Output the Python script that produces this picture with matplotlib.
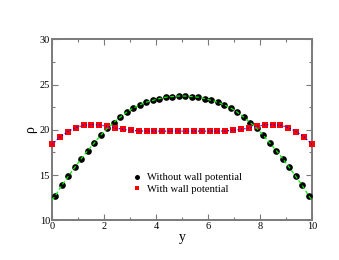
import numpy as np
import matplotlib
matplotlib.use("Agg")
import matplotlib.pyplot as plt
from matplotlib.ticker import MultipleLocator

plt.rcParams['font.family'] = ['Liberation Serif', 'DejaVu Serif']

# --- data ---
black_x = [0.125 + 0.25 * i for i in range(40)]
black_half = [12.7, 13.85, 14.85, 15.85, 16.8, 17.7, 18.55, 19.4, 20.15, 20.8,
              21.4, 21.95, 22.4, 22.75, 23.05, 23.25, 23.45, 23.6, 23.68, 23.73]
black_y = black_half + black_half[::-1]

green_x = [0.0] + black_x + [10.0]
green_y = [12.25] + black_y + [12.25]

red_x = list(np.linspace(0, 10, 34))
red_half = [18.4, 19.2, 19.8, 20.25, 20.5, 20.58, 20.55, 20.38, 20.2, 20.05,
            19.95, 19.87, 19.85, 19.85, 19.85, 19.85, 19.85]
red_y = red_half + red_half[::-1]

labels = ["Without wall potential", "With wall potential"]

fig = plt.figure(figsize=(3.39, 2.60), dpi=100)
ax = fig.add_axes([0.1534, 0.1527, 0.7670, 0.6961])

gray = '#7a7a7a'
h1, = ax.plot(black_x, black_y, 'o', color='black', ms=4.8, mew=0, clip_on=False, zorder=3, label=labels[0])
h2, = ax.plot(red_x, red_y, 's', color='#ff0000', ms=4.5, mew=0, clip_on=False, zorder=3, label=labels[1])
ax.plot(green_x, green_y, '--', color='#00ee00', lw=0.9, dashes=(3, 2), zorder=4)
ax.plot(red_x, red_y, ':', color='#0000ff', lw=0.9, zorder=4)

ax.set_xlim(0, 10)
ax.set_ylim(10, 30)
ax.xaxis.set_major_locator(MultipleLocator(2))
ax.xaxis.set_minor_locator(MultipleLocator(1))
ax.yaxis.set_major_locator(MultipleLocator(5))
ax.yaxis.set_minor_locator(MultipleLocator(2.5))

for s in ax.spines.values():
    s.set_color(gray)
    s.set_linewidth(1.4)
ax.tick_params(which='both', direction='in', top=True, right=True, color=gray,
               labelsize=7.5, pad=1.5, width=0.8)
ax.tick_params(which='major', length=4)
ax.tick_params(which='minor', length=2)

ax.set_xlabel('y', fontsize=10, labelpad=0)
ax.set_ylabel('ρ', fontsize=10, labelpad=2)

ax.legend(handles=[h1, h2], loc='upper left', bbox_to_anchor=(0.285, 0.29),
          frameon=False, fontsize=7.6, handlelength=1.0, handletextpad=0.45,
          labelspacing=0.2, markerscale=0.75, borderpad=0)

fig.savefig('out.png', dpi=100)
